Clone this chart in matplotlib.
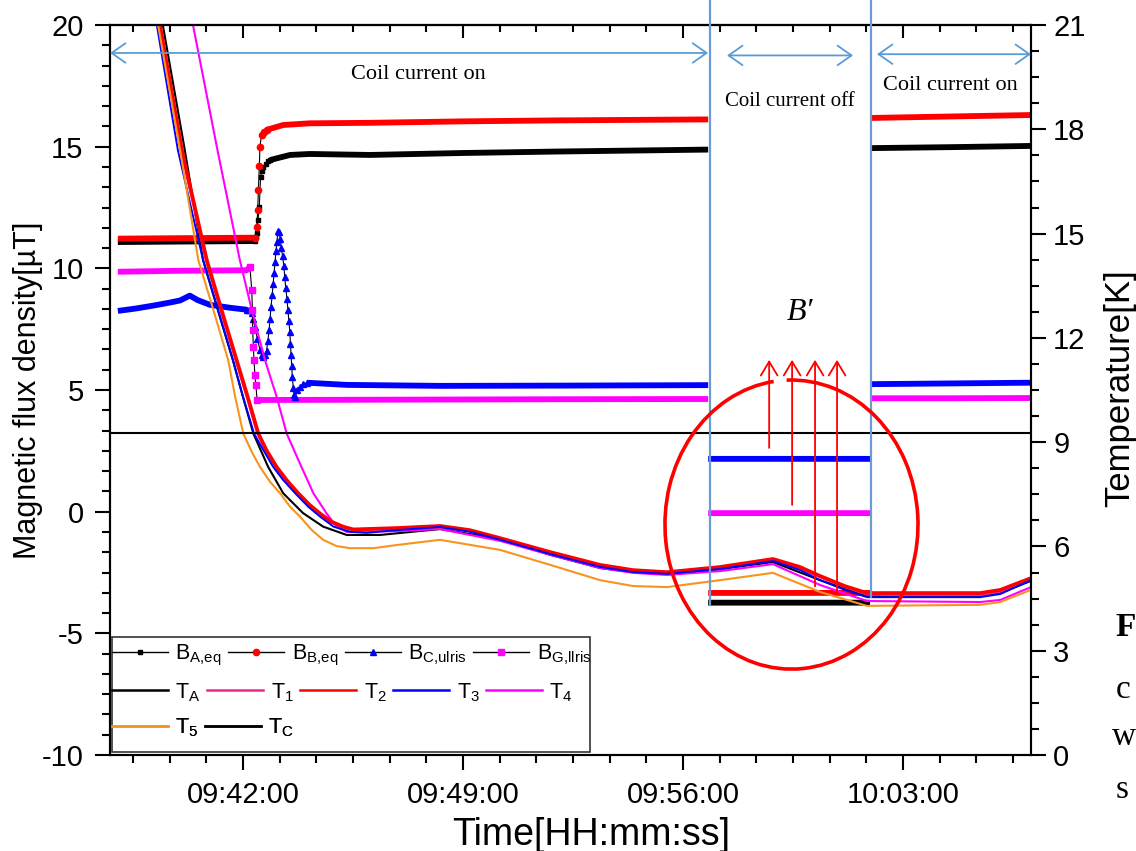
import numpy as np
import matplotlib
matplotlib.use("Agg")
import matplotlib.pyplot as plt
from matplotlib.lines import Line2D
from matplotlib.patches import Arc, Rectangle
from matplotlib.ticker import MultipleLocator, AutoMinorLocator, FuncFormatter

plt.rcParams['font.family'] = ['Liberation Sans', 'DejaVu Sans']
plt.rcParams['axes.unicode_minus'] = False
plt.rcParams['mathtext.fontset'] = 'custom'
plt.rcParams['mathtext.rm'] = 'Liberation Sans'
plt.rcParams['mathtext.default'] = 'regular'

nan = np.nan
# time in minutes after 09:00:00
t_lim = (37.77, 67.07)
t_off = (56.86, 61.98)      # coil current switched off / on again

# --- magnetic flux density [uT] (dense samples shown as a band) ---
ba_t = [38.02, 40.0, 42.38, nan, 42.86, 43.50, 44.13, 46.04, 49.0, 52.0, 56.80, nan, 56.80, 61.95, nan, 61.95, 64.5, 67.07]
ba_v = [11.08, 11.10, 11.12, nan, 14.45, 14.66, 14.70, 14.66, 14.74, 14.80, 14.88, nan, -3.74, -3.74, nan, 14.94, 14.98, 15.03]
ba_jt = [42.38, 42.42, 42.44, 42.48, 42.52, 42.56, 42.60, 42.65, 42.72, 42.80, 42.86]
ba_jv = [11.12, 11.30, 11.44, 12.0, 12.54, 13.77, 14.0, 14.18, 14.30, 14.40, 14.45]

bb_t = [38.02, 40.0, 42.38, nan, 42.75, 43.28, 44.13, 46.04, 49.0, 52.0, 56.80, nan, 56.80, 61.95, nan, 61.95, 64.5, 67.07]
bb_v = [11.22, 11.24, 11.26, nan, 15.69, 15.89, 15.96, 15.98, 16.04, 16.08, 16.12, nan, -3.34, -3.34, nan, 16.18, 16.24, 16.30]
bb_jt = [42.38, 42.44, 42.47, 42.49, 42.52, 42.54, 42.59, 42.66, 42.75]
bb_jv = [11.26, 11.71, 12.40, 13.22, 14.20, 15.00, 15.48, 15.60, 15.69]

bc_t = [38.02, 38.6, 39.2, 39.7, 40.0, 40.31, 40.55, 40.95, 41.59, 42.12, nan,
        44.03, 45.30, 48.27, 52.0, 56.80, nan, 56.80, 61.95, nan, 61.95, 64.5, 67.07]
bc_v = [8.25, 8.35, 8.48, 8.60, 8.68, 8.88, 8.70, 8.50, 8.38, 8.30, nan,
        5.30, 5.21, 5.17, 5.18, 5.20, nan, 2.17, 2.17, nan, 5.24, 5.27, 5.30]
bc_jt = [42.12, 42.20, 42.28, 42.33, 42.38, 42.46, 42.54, 42.60, 42.65, 42.70, 42.75, 42.79, 42.83,
         42.86, 42.89, 42.93, 42.96, 42.99, 43.02, 43.05, 43.08, 43.12, 43.15, 43.19, 43.22, 43.26,
         43.30, 43.33, 43.36, 43.40, 43.43, 43.46, 43.49, 43.51, 43.53, 43.55, 43.57, 43.60, 43.63,
         43.66, 43.72, 43.81, 43.92, 44.03]
bc_jv = [8.30, 8.27, 8.15, 7.90, 7.60, 7.10, 6.65, 6.42, 6.37, 6.45, 6.60, 7.00, 7.45,
         7.90, 8.40, 8.90, 9.35, 9.80, 10.25, 10.70, 11.10, 11.55, 11.50, 11.20, 10.85, 10.50,
         10.10, 9.65, 9.20, 8.75, 8.30, 7.85, 7.40, 6.90, 6.45, 6.00, 5.55, 5.10, 4.80,
         4.73, 4.98, 5.14, 5.25, 5.30]

bg_t = [38.02, 40.0, 42.12, 42.22, nan, 42.45, 46.0, 52.0, 56.80, nan, 56.80, 61.95, nan, 61.95, 64.5, 67.07]
bg_v = [9.86, 9.90, 9.92, 10.07, nan, 4.59, 4.60, 4.62, 4.63, nan, -0.06, -0.06, nan, 4.66, 4.66, 4.67]
bg_jt = [42.22, 42.28, 42.30, 42.31, 42.33, 42.35, 42.38, 42.41, 42.45]
bg_jv = [10.07, 9.11, 8.29, 7.47, 6.78, 6.24, 5.62, 5.21, 4.59]

# --- temperatures [K] ---
ta_t = [39.15, 39.45, 40.15, 40.73, 41.20, 41.68, 42.00, 42.33, 42.80, 43.28, 43.91, 44.55, 45.30,
        46.36, 48.27, 50.18, 51.77, 53.36, 54.41, 55.49, 57.18, 58.86, 60.36, 61.85, 65.45, 66.09, 67.07]
ta_v = [22.5, 21.0, 17.4, 14.24, 12.80, 11.36, 10.30, 9.25, 8.29, 7.53, 6.96, 6.57, 6.33,
        6.33, 6.50, 6.21, 5.76, 5.38, 5.26, 5.21, 5.35, 5.55, 5.03, 4.57, 4.57, 4.66, 5.01]
t1_t = [39.03, 39.33, 40.03, 40.82, 41.29, 41.77, 42.12, 42.46, 42.72, 43.04, 43.36, 43.73, 44.10,
        44.42, 44.79, 45.16, 45.48, 46.90, 48.27, 49.22, 50.18, 51.77, 53.36, 54.41, 55.49, 57.18,
        58.86, 59.72, 60.36, 61.15, 61.85, 62.90, 65.45, 66.09, 67.07]
t1_v = [22.4, 21.0, 17.4, 14.24, 12.80, 11.36, 10.31, 9.25, 8.77, 8.29, 7.91, 7.53, 7.19,
        6.95, 6.70, 6.55, 6.47, 6.50, 6.55, 6.44, 6.20, 5.80, 5.44, 5.29, 5.23, 5.38,
        5.60, 5.37, 5.12, 4.83, 4.62, 4.60, 4.60, 4.70, 5.05]
t2_t = [39.05, 39.36, 40.06, 40.85, 41.32, 41.80, 42.15, 42.49, 42.75, 43.07, 43.39, 43.76, 44.13,
        44.45, 44.82, 45.19, 45.51, 46.90, 48.27, 49.22, 50.18, 51.77, 53.36, 54.41, 55.49, 57.18,
        58.86, 59.72, 60.36, 61.15, 61.85, 62.90, 65.45, 66.09, 67.07]
t2_v = [22.4, 21.0, 17.4, 14.24, 12.80, 11.36, 10.31, 9.25, 8.77, 8.29, 7.91, 7.53, 7.19,
        6.95, 6.71, 6.57, 6.49, 6.53, 6.59, 6.47, 6.24, 5.84, 5.47, 5.32, 5.26, 5.41,
        5.64, 5.41, 5.15, 4.86, 4.66, 4.66, 4.66, 4.75, 5.09]
t3_t = [38.95, 39.26, 39.93, 40.73, 41.21, 41.68, 42.00, 42.35, 42.65, 42.96, 43.28, 43.66, 44.08,
        44.45, 44.88, 45.40, 45.93, 46.90, 48.27, 49.22, 50.18, 51.77, 53.36, 54.41, 55.49, 57.18,
        58.86, 59.72, 60.36, 61.15, 61.85, 62.90, 65.45, 66.09, 67.07]
t3_v = [22.4, 21.0, 17.4, 14.24, 12.80, 11.36, 10.31, 9.25, 8.77, 8.29, 7.91, 7.53, 7.14,
        6.86, 6.57, 6.42, 6.39, 6.47, 6.56, 6.42, 6.19, 5.78, 5.41, 5.26, 5.21, 5.35,
        5.58, 5.32, 5.03, 4.75, 4.54, 4.54, 4.54, 4.63, 5.03]
t4_t = [40.10, 40.41, 41.19, 41.90, 42.28, 42.70, 43.07, 43.39, 43.81, 44.24, 44.66, 44.98, 45.30,
        46.90, 48.27, 50.18, 51.77, 53.36, 54.41, 55.49, 57.18, 58.86, 60.36, 61.85, 65.45, 66.09, 67.07]
t4_v = [22.4, 21.0, 17.4, 14.24, 12.80, 11.36, 10.31, 9.25, 8.39, 7.53, 6.95, 6.57, 6.42,
        6.44, 6.50, 6.16, 5.76, 5.38, 5.24, 5.18, 5.29, 5.49, 4.89, 4.43, 4.40, 4.46, 4.83]
t5_t = [38.95, 39.30, 40.00, 40.58, 41.06, 41.53, 41.75, 42.01, 42.28, 42.54, 42.86, 43.18, 43.50,
        43.81, 44.19, 44.55, 44.98, 45.40, 46.15, 46.89, 48.27, 50.18, 51.77, 53.36, 54.41, 55.49,
        57.18, 58.86, 60.36, 61.85, 65.45, 66.09, 67.07]
t5_v = [22.5, 21.0, 17.4, 14.24, 12.80, 11.36, 10.31, 9.25, 8.72, 8.29, 7.86, 7.53, 7.14,
        6.86, 6.47, 6.19, 6.01, 5.95, 5.95, 6.04, 6.19, 5.90, 5.47, 5.03, 4.86, 4.83,
        5.03, 5.24, 4.69, 4.29, 4.32, 4.40, 4.75]
t_c = 9.25

# annotations (data units of the left axis)
arrow_y = 18.85
ell_center, ell_w, ell_h = (59.45, -0.53), 8.05, 11.88
up_x = [58.74, 59.47, 60.20, 60.90]
up_from = [2.62, 0.28, -3.07, -3.28]
up_to = 6.24

C_PINK = '#f0288c'
C_ORANGE = '#f7941d'
C_VLINE = '#6d9bd1'

fig = plt.figure(figsize=(11.36, 8.51), dpi=100)
ax = fig.add_axes([110 / 1136, 1 - 755 / 851, 921 / 1136, 730 / 851])
ax2 = ax.twinx()

# B series: band for the dense samples, markers where the sampling is visible
for t, v, jt, jv, c, m, ms in [(ba_t, ba_v, ba_jt, ba_jv, 'black', 's', 3.5),
                               (bb_t, bb_v, bb_jt, bb_jv, 'red', 'o', 4.5),
                               (bc_t, bc_v, bc_jt, bc_jv, 'blue', '^', 5),
                               (bg_t, bg_v, bg_jt, bg_jv, 'magenta', 's', 4)]:
    ax.plot(t, v, color=c, lw=4.2, solid_capstyle='butt', zorder=2)
    ax.plot(jt, jv, color='black', lw=0.8, marker=m, ms=ms, mfc=c, mec=c, zorder=3)

ax.set_xlim(*t_lim)
ax.set_ylim(-10, 20)
ax2.set_ylim(0, 21)

for t, v, c, lw in [(ta_t, ta_v, 'black', 1.5), (t4_t, t4_v, 'magenta', 1.5),
                    (t1_t, t1_v, C_PINK, 1.8), (t2_t, t2_v, 'red', 2.6),
                    (t3_t, t3_v, 'blue', 1.4), (t5_t, t5_v, C_ORANGE, 1.5)]:
    ax2.plot(t, v, color=c, lw=lw, zorder=2, solid_joinstyle='round')
ax2.axhline(t_c, color='black', lw=1.5, zorder=2)

# coil current on/off markers
for x, y0 in [(t_off[0], -3.84), (t_off[1], -3.51)]:
    ax2.plot([x, x], [y0, 21.03], color=C_VLINE, lw=1.6, transform=ax.transData,
             clip_on=False, zorder=3)
arr = dict(arrowstyle='<->,head_length=0.5,head_width=0.35', color='#5b9bd5', lw=1.3,
           shrinkA=0, shrinkB=0, mutation_scale=20)
for x0, x1, y in [(t_lim[0], 56.80, arrow_y), (57.40, 61.41, arrow_y - 0.1), (62.17, t_lim[1], arrow_y - 0.05)]:
    ax2.annotate('', xy=(x1, y), xytext=(x0, y), xycoords=ax.transData, textcoords=ax.transData,
                 arrowprops=arr, annotation_clip=False)
serif = ['Liberation Serif', 'DejaVu Serif']
ax2.text(47.57, 17.95, 'Coil current on', transform=ax.transData, family=serif, fontsize=16,
         ha='center', va='center')
ax2.text(59.40, 16.84, 'Coil current off', transform=ax.transData, family=serif, fontsize=15,
         ha='center', va='center')
ax2.text(64.49, 17.53, 'Coil current on', transform=ax.transData, family=serif, fontsize=16,
         ha='center', va='center')
ax2.text(59.72, 8.19, 'B\u2032', transform=ax.transData, family=serif, style='italic',
         fontsize=23, ha='center', va='center')

ax2.add_patch(Arc(ell_center, ell_w, ell_h, theta1=95.5, theta2=451.5, color='red', lw=2.6,
                  transform=ax.transData, zorder=4))
for x, y0 in zip(up_x, up_from):
    ax2.annotate('', xy=(x, up_to), xytext=(x, y0), xycoords=ax.transData, textcoords=ax.transData,
                 arrowprops=dict(arrowstyle='->,head_length=0.5,head_width=0.3', color='red',
                                 lw=1.3, shrinkA=0, shrinkB=0, mutation_scale=20), zorder=4)

# ticks
def hms(m, pos):
    s = int(round(m * 60))
    return f"{9 + s // 3600:02d}:{(s % 3600) // 60:02d}:{s % 60:02d}"

ax.xaxis.set_major_locator(MultipleLocator(7))
ax.xaxis.set_minor_locator(AutoMinorLocator(6))
ax.xaxis.set_major_formatter(FuncFormatter(hms))
ax.yaxis.set_major_locator(MultipleLocator(5))
ax.yaxis.set_minor_locator(AutoMinorLocator(6))
ax2.yaxis.set_major_locator(MultipleLocator(3))
ax2.yaxis.set_minor_locator(AutoMinorLocator(4))
ax.tick_params(which='major', direction='out', length=11, width=1.5, labelsize=21, top=False)
ax.tick_params(which='minor', direction='out', length=5.5, width=1.5, top=False)
ax.tick_params(axis='x', pad=8)
ax.tick_params(axis='y', pad=8)
ax2.tick_params(which='major', direction='out', length=11, width=1.5, labelsize=21, pad=5)
ax2.tick_params(which='minor', direction='out', length=5.5, width=1.5)
top = ax.secondary_xaxis('top')
top.xaxis.set_major_locator(MultipleLocator(7))
top.xaxis.set_minor_locator(AutoMinorLocator(6))
top.tick_params(which='major', direction='in', length=9, width=1.5, labeltop=False)
top.tick_params(which='minor', direction='in', length=5, width=1.5)
for a in (ax, ax2, top):
    for s in a.spines.values():
        s.set_linewidth(1.5)

ax.set_xlabel('Time[HH:mm:ss]', fontsize=27)
ax.xaxis.set_label_coords(0.522, -0.085)
ax.set_ylabel('Magnetic flux density[\u00b5T]', fontsize=22)
ax.yaxis.set_label_coords(-0.073, 0.5)
ax2.set_ylabel('Temperature[K]', fontsize=25)
ax2.yaxis.set_label_coords(1.078, 0.503)

# legend: three rows in one frame
ax2.add_patch(Rectangle((0.002, 0.004), 0.519, 0.158, transform=ax2.transAxes, facecolor='white',
                        edgecolor='#333333', lw=1.2, zorder=5))
row1 = [Line2D([], [], color='black', lw=1, marker='s', ms=3.5, mfc='black', mec='black'),
        Line2D([], [], color='black', lw=1, marker='o', ms=4.5, mfc='red', mec='red'),
        Line2D([], [], color='black', lw=1, marker='^', ms=5, mfc='blue', mec='blue'),
        Line2D([], [], color='black', lw=1, marker='s', ms=4, mfc='magenta', mec='magenta')]
lab1 = ['$B_{A{,}eq}$', '$B_{B{,}eq}$', '$B_{C{,}ulris}$', '$B_{G{,}llris}$']
row2 = [Line2D([], [], color=c, lw=1.8) for c in ['black', C_PINK, 'red', 'blue', 'magenta']]
lab2 = ['$T_A$', '$T_1$', '$T_2$', '$T_3$', '$T_4$']
row3 = [Line2D([], [], color=c, lw=1.8) for c in [C_ORANGE, 'black']]
lab3 = ['$T_5$', '$T_C$']
for h, l, y in [(row1, lab1, 0.137), (row2, lab2, 0.086), (row3, lab3, 0.037)]:
    leg = ax2.legend(h, l, loc='center left', bbox_to_anchor=(0.002, y), ncol=len(h), frameon=False,
                     fontsize=15.5, handlelength=2.6, handletextpad=0.35, columnspacing=0.3,
                     borderpad=0, borderaxespad=0)
    leg.set_zorder(6)
    ax2.add_artist(leg)

# fragments of the neighbouring page text at the right edge
fig.text(1115 / 1136, 1 - 628 / 851, 'F', family=serif, fontsize=24, fontweight='bold', va='center')
fig.text(1116 / 1136, 1 - 690 / 851, 'c', family=serif, fontsize=24, va='center')
fig.text(1112 / 1136, 1 - 737 / 851, 'w', family=serif, fontsize=24, va='center')
fig.text(1116 / 1136, 1 - 790 / 851, 's', family=serif, fontsize=24, va='center')

fig.savefig('out.png', dpi=100)
